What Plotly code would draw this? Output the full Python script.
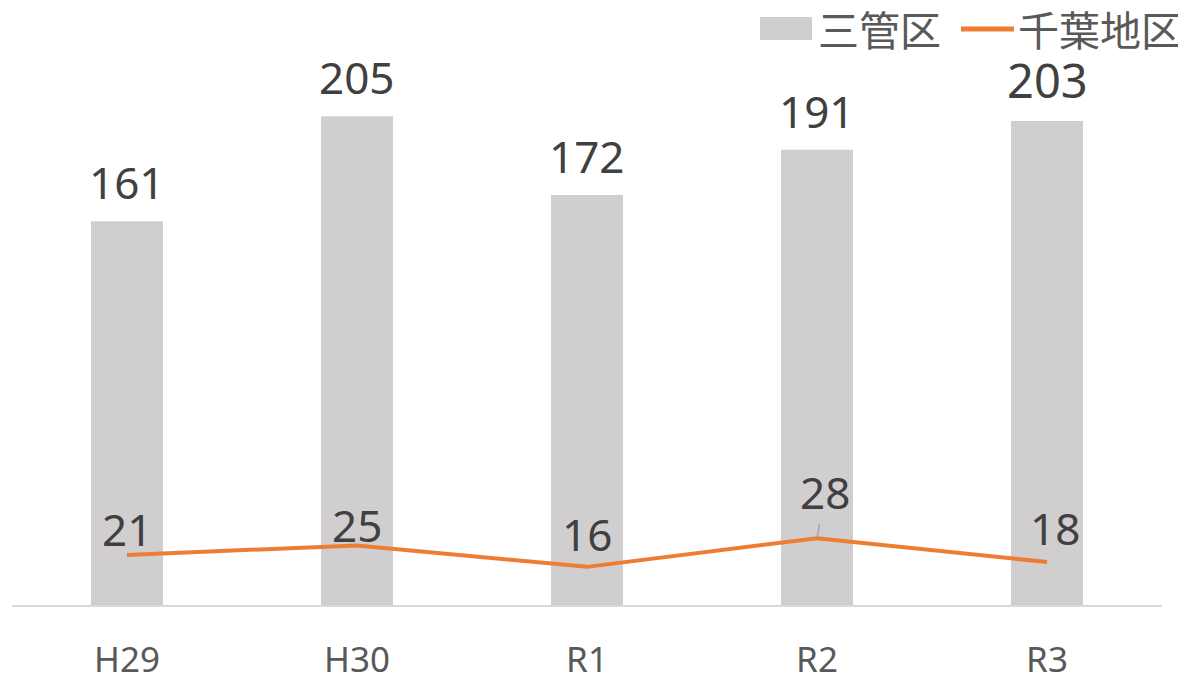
import plotly.graph_objects as go

categories = ["H29", "H30", "R1", "R2", "R3"]
sankanku = [161, 205, 172, 191, 203]
chiba = [21, 25, 16, 28, 18]
bar_name = "三管区"
line_name = "千葉地区"

# page body adds an 8px offset; compensate in the margins
OFF = 8
W, H = 1186, 677
ML, MR, MT, MB = 12 - OFF, 32, 9 - OFF, 80
PW, PH = W - ML - MR, H - MT - MB


def px(x):
    return (x - OFF - ML) / PW


def py(y):
    return (H - MB - (y - OFF)) / PH


fig = go.Figure()
fig.add_trace(go.Bar(
    x=categories, y=sankanku, name=bar_name,
    marker=dict(color="#D0CECE", line=dict(width=0)),
    width=0.313,
))
fig.add_trace(go.Scatter(
    x=categories, y=chiba, name=line_name, mode="lines",
    line=dict(color="#ED7D31", width=4),
))

num_font = "Noto Sans, DejaVu Sans, sans-serif"
# bar value labels
for i, (c, v) in enumerate(zip(categories, sankanku)):
    fig.add_annotation(
        x=c, y=v, text=str(v), showarrow=False, yanchor="middle",
        yshift=39 if i < 4 else 41,
        font=dict(family=num_font, size=44 if i < 4 else 47, color="#404040"),
    )
# line value labels
line_shift = [26, 20, 33, 0, 34]
line_xshift = [0, 0, 0, 0, 8]
for i, (c, v) in enumerate(zip(categories, chiba)):
    if i == 3:
        fig.add_annotation(
            x=c, y=v, text=str(v), showarrow=True, arrowhead=0,
            arrowcolor="#A6A6A6", arrowwidth=1.5, ax=8, ay=-46,
            standoff=2,
            font=dict(family=num_font, size=44, color="#404040"),
        )
    else:
        fig.add_annotation(
            x=c, y=v, text=str(v), showarrow=False, yanchor="middle",
            yshift=line_shift[i], xshift=line_xshift[i],
            font=dict(family=num_font, size=44, color="#404040"),
        )

# manual legend (overlapping the plot like the original)
leg_font = dict(family="Noto Sans CJK JP, sans-serif", size=41, color="#595959")
fig.add_shape(type="rect", xref="paper", yref="paper",
              x0=px(760), x1=px(812), y0=py(40), y1=py(17),
              fillcolor="#D0CECE", line=dict(width=0), layer="above")
fig.add_annotation(xref="paper", yref="paper", x=px(816), y=py(28),
                   xanchor="left", yanchor="middle", text=bar_name,
                   showarrow=False, font=leg_font)
fig.add_shape(type="line", xref="paper", yref="paper",
              x0=px(961), x1=px(1014), y0=py(29), y1=py(29),
              line=dict(color="#ED7D31", width=5), layer="above")
fig.add_annotation(xref="paper", yref="paper", x=px(1016), y=py(28),
                   xanchor="left", yanchor="middle", text=line_name,
                   showarrow=False, font=leg_font)

fig.update_layout(
    width=W, height=H,
    margin=dict(l=ML, r=MR, t=MT, b=MB, autoexpand=False),
    plot_bgcolor="white", paper_bgcolor="white",
    showlegend=False,
    xaxis=dict(
        showgrid=False, showline=True, linecolor="#D9D9D9", linewidth=2,
        ticks="", tickfont=dict(family=num_font, size=35, color="#595959"),
        ticklabelstandoff=23, range=[-0.5, 4.5], automargin=False,
    ),
    yaxis=dict(
        range=[0, 250], showgrid=False, showticklabels=False, zeroline=False,
        showline=False, automargin=False,
    ),
)

fig.write_html("out.html")
